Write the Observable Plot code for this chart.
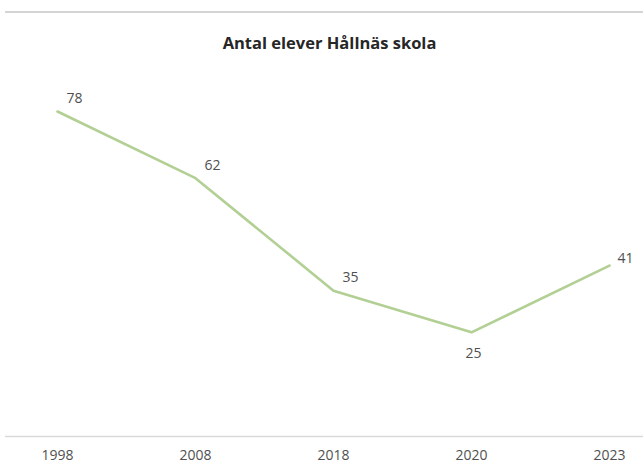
<!DOCTYPE html>
<html>
<head>
<meta charset="utf-8">
<script src="https://cdn.jsdelivr.net/npm/d3@7"></script>
<script src="https://cdn.jsdelivr.net/npm/@observablehq/plot@0.6"></script>
<style>
  html, body { margin: 0; padding: 0; background: #fff; }
  #wrap { position: relative; width: 643px; height: 467px; }
  #topline { position: absolute; left: 5px; top: 11px; width: 638px; height: 2px; background: #d4d4d4; }
  #wrap svg { position: absolute; left: 0; top: 0; }
</style>
</head>
<body>
<div id="wrap"><div id="topline"></div></div>
<script>
const years = ["1998", "2008", "2018", "2020", "2023"];
const students = [78, 62, 35, 25, 41];
const title = "Antal elever Hållnäs skola";

const data = years.map((y, i) => ({year: y, value: students[i], i}));
const font = "'Open Sans', 'Liberation Sans', sans-serif";

const chart = Plot.plot({
  width: 643,
  height: 467,
  marginTop: 61,
  marginBottom: 31,
  marginLeft: 57,
  marginRight: 34,
  style: {fontFamily: font, background: "transparent"},
  x: {type: "point", domain: years, padding: 0, label: null},
  y: {domain: [0, 90], axis: null},
  marks: [
    Plot.axisX({tickSize: 0, tickPadding: 14, fontSize: 14, fill: "#505050", label: null}),
    Plot.ruleY([0], {stroke: "#d9d9d9", strokeWidth: 1.5, insetLeft: -52, insetRight: -34}),
    Plot.line(data, {x: "year", y: "value", stroke: "#b2cf94", strokeWidth: 2.6}),
    Plot.text(data.filter(d => d.i < 3), {x: "year", y: "value", text: d => String(d.value), dx: 17, dy: -13, fontSize: 14, fill: "#505050"}),
    Plot.text(data.filter(d => d.i === 3), {x: "year", y: "value", text: d => String(d.value), dx: 2, dy: 21, fontSize: 14, fill: "#505050"}),
    Plot.text(data.filter(d => d.i === 4), {x: "year", y: "value", text: d => String(d.value), dx: 16, dy: -7, fontSize: 14, fill: "#505050"}),
    Plot.text([title], {frameAnchor: "top", dx: -4, dy: -24, fontSize: 16.5, fontWeight: 700, fill: "#262626"})
  ]
});
document.getElementById("wrap").appendChild(chart);
</script>
</body>
</html>
